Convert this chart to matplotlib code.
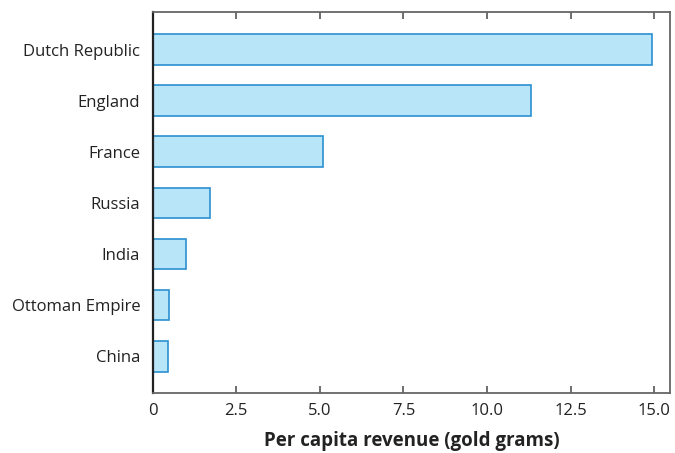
import matplotlib
matplotlib.use("Agg")
import matplotlib.pyplot as plt

countries = ["Dutch Republic", "England", "France", "Russia", "India", "Ottoman Empire", "China"]
revenue = [14.92, 11.31, 5.10, 1.70, 0.99, 0.50, 0.47]
xticks = [0, 2.5, 5.0, 7.5, 10.0, 12.5, 15.0]
xtick_labels = ["0", "2.5", "5.0", "7.5", "10.0", "12.5", "15.0"]

plt.rcParams['font.family'] = ['Open Sans', 'DejaVu Sans']

fig = plt.figure(figsize=(6.75, 4.53), dpi=100)
ax = fig.add_axes([152.7/675, 1-393/453, (670-152.7)/675, (393-12.3)/453])

ypos = list(range(len(countries)))
ax.barh(ypos, revenue, height=0.6, color="#b9e5f9", edgecolor="#2b90d0", linewidth=1.2)
ax.set_ylim(6.72, -0.73)
ax.set_xlim(0, 15.47)
ax.set_yticks(ypos)
ax.set_yticklabels(countries, fontsize=12, color="#222222")
ax.set_xticks(xticks)
ax.set_xticklabels(xtick_labels, fontsize=12, color="#222222")
ax.tick_params(axis='y', length=0, pad=9)
ax.tick_params(axis='x', direction='in', length=5, width=1.2, color="#555555", top=True, pad=7)
ax.set_xlabel("Per capita revenue (gold grams)", fontsize=13.5, fontweight='bold', color="#222222", labelpad=9)

for s in ['top', 'right', 'bottom']:
    ax.spines[s].set_color("#666666")
    ax.spines[s].set_linewidth(1.3)
ax.spines['left'].set_color("#222222")
ax.spines['left'].set_linewidth(1.6)

fig.savefig("out.png", dpi=100)
